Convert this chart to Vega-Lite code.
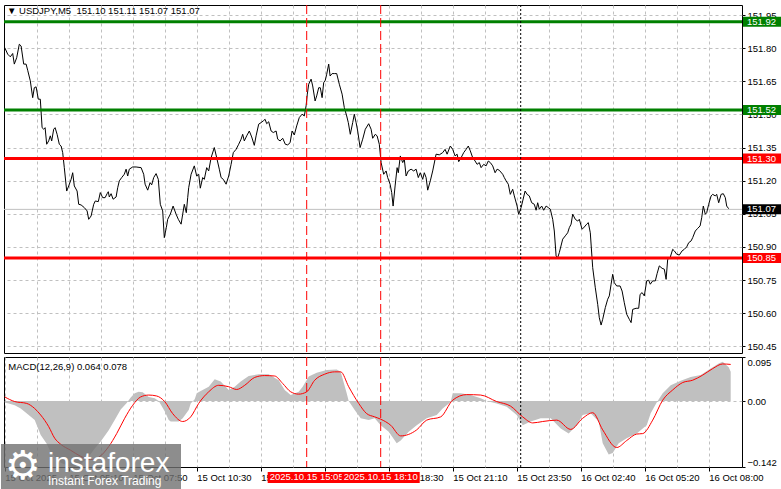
{
"$schema":"https://vega.github.io/schema/vega-lite/v6.json",
"background":"#ffffff",
"padding":{"left":0,"top":4,"right":0,"bottom":0},
"spacing":2,
"config":{
 "view":{"stroke":"#000000","strokeWidth":1},
 "axis":{"labelFont":"Liberation Sans","labelFontSize":9.5,"labelColor":"#000000","gridColor":"#c0c0c0","gridDash":[3,3],"gridWidth":1,"domain":false,"tickColor":"#000000","title":null,"labelOverlap":false,"labelSeparation":0},
 "text":{"font":"Liberation Sans","fontSize":9.5}
},
"resolve":{"scale":{"x":"independent","y":"independent","color":"independent"},"axis":{"x":"independent","y":"independent"}},
"datasets":{
 "price":[
{"bar":0,"price":151.803},{"bar":1.5,"price":151.773},{"bar":2.8,"price":151.761},{"bar":4.0,"price":151.776},{"bar":4.8,"price":151.728},{"bar":6.0,"price":151.757},{"bar":7.3,"price":151.818},{"bar":8.2,"price":151.810},{"bar":9.5,"price":151.728},{"bar":10.7,"price":151.728},{"bar":11.5,"price":151.700},{"bar":12.8,"price":151.652},{"bar":14.0,"price":151.576},{"bar":14.8,"price":151.621},{"bar":15.7,"price":151.625},{"bar":16.8,"price":151.569},{"bar":17.8,"price":151.569},{"bar":18.7,"price":151.440},{"bar":19.5,"price":151.433},{"bar":20.2,"price":151.440},{"bar":21.0,"price":151.365},{"bar":22.0,"price":151.380},{"bar":22.8,"price":151.403},{"bar":23.5,"price":151.380},{"bar":24.5,"price":151.433},{"bar":25.2,"price":151.440},{"bar":26.2,"price":151.410},{"bar":27.3,"price":151.365},{"bar":28.2,"price":151.357},{"bar":29.0,"price":151.327},{"bar":29.8,"price":151.259},{"bar":31.0,"price":151.153},{"bar":32.0,"price":151.176},{"bar":33.2,"price":151.206},{"bar":34.0,"price":151.236},{"bar":34.8,"price":151.176},{"bar":36.2,"price":151.153},{"bar":37.0,"price":151.093},{"bar":38.2,"price":151.090},{"bar":39.8,"price":151.078},{"bar":41.2,"price":151.063},{"bar":42.0,"price":151.025},{"bar":43.2,"price":151.040},{"bar":44.5,"price":151.093},{"bar":45.3,"price":151.108},{"bar":46.8,"price":151.105},{"bar":47.8,"price":151.146},{"bar":49.0,"price":151.123},{"bar":50.2,"price":151.123},{"bar":51.2,"price":151.141},{"bar":51.8,"price":151.150},{"bar":52.3,"price":151.126},{"bar":53.2,"price":151.141},{"bar":54.2,"price":151.116},{"bar":55.7,"price":151.126},{"bar":56.5,"price":151.168},{"bar":57.3,"price":151.199},{"bar":58.5,"price":151.214},{"bar":59.8,"price":151.229},{"bar":60.7,"price":151.252},{"bar":61.5,"price":151.221},{"bar":62.3,"price":151.252},{"bar":64.0,"price":151.262},{"bar":65.7,"price":151.262},{"bar":68.2,"price":151.259},{"bar":69.5,"price":151.229},{"bar":70.2,"price":151.184},{"bar":71.5,"price":151.157},{"bar":72.7,"price":151.191},{"bar":73.5,"price":151.181},{"bar":74.5,"price":151.214},{"bar":75.7,"price":151.232},{"bar":76.8,"price":151.206},{"bar":77.8,"price":151.093},{"bar":79.0,"price":151.063},{"bar":79.8,"price":150.942},{"bar":80.8,"price":150.987},{"bar":81.5,"price":151.025},{"bar":82.8,"price":151.048},{"bar":84.2,"price":151.085},{"bar":85.7,"price":151.048},{"bar":86.8,"price":151.025},{"bar":88.2,"price":151.003},{"bar":89.0,"price":151.048},{"bar":89.8,"price":151.093},{"bar":90.8,"price":151.055},{"bar":91.5,"price":151.123},{"bar":92.0,"price":151.168},{"bar":93.2,"price":151.229},{"bar":94.8,"price":151.267},{"bar":96.0,"price":151.221},{"bar":97.0,"price":151.229},{"bar":97.8,"price":151.166},{"bar":99.0,"price":151.214},{"bar":99.8,"price":151.206},{"bar":101.0,"price":151.259},{"bar":102.0,"price":151.244},{"bar":103.2,"price":151.304},{"bar":104.8,"price":151.350},{"bar":106.0,"price":151.304},{"bar":107.3,"price":151.252},{"bar":108.2,"price":151.214},{"bar":109.3,"price":151.206},{"bar":110.7,"price":151.184},{"bar":112.0,"price":151.221},{"bar":113.2,"price":151.274},{"bar":114.3,"price":151.327},{"bar":115.7,"price":151.342},{"bar":117.0,"price":151.365},{"bar":118.2,"price":151.388},{"bar":119.0,"price":151.410},{"bar":119.8,"price":151.380},{"bar":121.0,"price":151.403},{"bar":122.3,"price":151.425},{"bar":123.5,"price":151.398},{"bar":124.8,"price":151.360},{"bar":125.7,"price":151.403},{"bar":127.0,"price":151.456},{"bar":128.2,"price":151.463},{"bar":129.3,"price":151.471},{"bar":130.2,"price":151.478},{"bar":131.0,"price":151.458},{"bar":132.0,"price":151.467},{"bar":133.2,"price":151.425},{"bar":134.3,"price":151.418},{"bar":135.7,"price":151.425},{"bar":136.5,"price":151.388},{"bar":137.7,"price":151.380},{"bar":139.0,"price":151.392},{"bar":140.3,"price":151.365},{"bar":141.5,"price":151.362},{"bar":142.7,"price":151.372},{"bar":143.7,"price":151.425},{"bar":144.8,"price":151.407},{"bar":146.0,"price":151.448},{"bar":147.3,"price":151.486},{"bar":148.7,"price":151.501},{"bar":149.8,"price":151.493},{"bar":150.7,"price":151.539},{"bar":151.3,"price":151.592},{"bar":152.0,"price":151.637},{"bar":153.2,"price":151.660},{"bar":154.0,"price":151.629},{"bar":155.2,"price":151.561},{"bar":156.0,"price":151.584},{"bar":157.0,"price":151.621},{"bar":157.8,"price":151.621},{"bar":158.7,"price":151.576},{"bar":159.5,"price":151.644},{"bar":160.3,"price":151.655},{"bar":161.0,"price":151.682},{"bar":162.0,"price":151.728},{"bar":162.7,"price":151.674},{"bar":163.7,"price":151.685},{"bar":164.8,"price":151.685},{"bar":166.0,"price":151.685},{"bar":167.3,"price":151.637},{"bar":168.7,"price":151.592},{"bar":169.8,"price":151.531},{"bar":171.0,"price":151.493},{"bar":171.8,"price":151.463},{"bar":172.8,"price":151.410},{"bar":174.0,"price":151.463},{"bar":174.8,"price":151.501},{"bar":175.7,"price":151.463},{"bar":176.5,"price":151.425},{"bar":177.7,"price":151.350},{"bar":179.0,"price":151.388},{"bar":180.3,"price":151.433},{"bar":182.0,"price":151.458},{"bar":183.2,"price":151.433},{"bar":184.0,"price":151.392},{"bar":185.3,"price":151.410},{"bar":186.2,"price":151.403},{"bar":187.3,"price":151.365},{"bar":188.2,"price":151.282},{"bar":189.5,"price":151.229},{"bar":190.7,"price":151.244},{"bar":191.5,"price":151.214},{"bar":192.7,"price":151.184},{"bar":193.5,"price":151.146},{"bar":194.2,"price":151.085},{"bar":195.2,"price":151.176},{"bar":196.2,"price":151.259},{"bar":196.8,"price":151.236},{"bar":197.8,"price":151.312},{"bar":199.0,"price":151.282},{"bar":199.8,"price":151.297},{"bar":200.7,"price":151.221},{"bar":201.8,"price":151.244},{"bar":203.2,"price":151.252},{"bar":204.5,"price":151.244},{"bar":205.7,"price":151.252},{"bar":206.8,"price":151.214},{"bar":207.8,"price":151.236},{"bar":209.0,"price":151.206},{"bar":209.8,"price":151.236},{"bar":210.7,"price":151.214},{"bar":211.5,"price":151.157},{"bar":212.8,"price":151.199},{"bar":214.0,"price":151.244},{"bar":215.7,"price":151.320},{"bar":217.3,"price":151.317},{"bar":219.0,"price":151.327},{"bar":220.2,"price":151.342},{"bar":221.2,"price":151.320},{"bar":222.8,"price":151.357},{"bar":224.0,"price":151.342},{"bar":225.2,"price":151.312},{"bar":226.2,"price":151.320},{"bar":227.0,"price":151.286},{"bar":228.2,"price":151.304},{"bar":229.5,"price":151.327},{"bar":230.7,"price":151.342},{"bar":231.8,"price":151.357},{"bar":232.8,"price":151.335},{"bar":234.0,"price":151.304},{"bar":235.2,"price":151.289},{"bar":236.2,"price":151.274},{"bar":237.3,"price":151.282},{"bar":238.2,"price":151.259},{"bar":239.5,"price":151.274},{"bar":240.7,"price":151.267},{"bar":241.8,"price":151.289},{"bar":242.8,"price":151.282},{"bar":244.0,"price":151.267},{"bar":245.2,"price":151.236},{"bar":246.2,"price":151.252},{"bar":247.3,"price":151.247},{"bar":249.0,"price":151.229},{"bar":249.8,"price":151.214},{"bar":250.7,"price":151.199},{"bar":251.8,"price":151.184},{"bar":252.8,"price":151.138},{"bar":254.0,"price":151.161},{"bar":254.8,"price":151.131},{"bar":256.2,"price":151.085},{"bar":257.0,"price":151.048},{"bar":258.2,"price":151.078},{"bar":259.0,"price":151.108},{"bar":260.2,"price":151.153},{"bar":261.2,"price":151.138},{"bar":262.3,"price":151.131},{"bar":263.5,"price":151.100},{"bar":264.8,"price":151.093},{"bar":265.7,"price":151.066},{"bar":266.5,"price":151.100},{"bar":267.3,"price":151.071},{"bar":268.5,"price":151.085},{"bar":269.5,"price":151.066},{"bar":270.7,"price":151.085},{"bar":271.8,"price":151.078},{"bar":272.8,"price":151.071},{"bar":274.0,"price":151.025},{"bar":274.8,"price":150.972},{"bar":275.7,"price":150.859},{"bar":276.5,"price":150.851},{"bar":277.3,"price":150.874},{"bar":279.0,"price":150.935},{"bar":280.3,"price":150.950},{"bar":281.5,"price":150.964},{"bar":282.3,"price":150.987},{"bar":283.2,"price":151.003},{"bar":284.0,"price":151.048},{"bar":285.3,"price":151.025},{"bar":286.5,"price":151.017},{"bar":287.3,"price":151.025},{"bar":288.7,"price":150.980},{"bar":289.8,"price":150.990},{"bar":291.0,"price":151.003},{"bar":291.8,"price":151.010},{"bar":292.8,"price":150.964},{"bar":294.0,"price":150.806},{"bar":295.3,"price":150.715},{"bar":296.5,"price":150.640},{"bar":297.3,"price":150.579},{"bar":298.2,"price":150.546},{"bar":299.0,"price":150.572},{"bar":300.3,"price":150.625},{"bar":301.5,"price":150.663},{"bar":302.3,"price":150.678},{"bar":303.2,"price":150.731},{"bar":304.0,"price":150.776},{"bar":304.8,"price":150.738},{"bar":306.0,"price":150.723},{"bar":307.7,"price":150.723},{"bar":308.7,"price":150.700},{"bar":309.8,"price":150.647},{"bar":311.0,"price":150.595},{"bar":312.3,"price":150.572},{"bar":313.2,"price":150.557},{"bar":314.0,"price":150.617},{"bar":315.7,"price":150.622},{"bar":317.0,"price":150.622},{"bar":317.7,"price":150.685},{"bar":318.7,"price":150.693},{"bar":319.8,"price":150.678},{"bar":321.0,"price":150.746},{"bar":322.0,"price":150.749},{"bar":322.8,"price":150.731},{"bar":324.0,"price":150.746},{"bar":325.3,"price":150.746},{"bar":326.2,"price":150.779},{"bar":327.3,"price":150.814},{"bar":328.7,"price":150.803},{"bar":329.8,"price":150.799},{"bar":330.7,"price":150.753},{"bar":331.5,"price":150.844},{"bar":332.7,"price":150.851},{"bar":334.0,"price":150.889},{"bar":334.8,"price":150.882},{"bar":336.0,"price":150.867},{"bar":337.3,"price":150.863},{"bar":338.7,"price":150.882},{"bar":339.8,"price":150.889},{"bar":341.0,"price":150.900},{"bar":342.0,"price":150.919},{"bar":343.2,"price":150.927},{"bar":344.0,"price":150.942},{"bar":345.3,"price":150.972},{"bar":346.5,"price":150.984},{"bar":347.7,"price":150.995},{"bar":348.5,"price":151.032},{"bar":349.3,"price":151.085},{"bar":350.3,"price":151.048},{"bar":351.0,"price":151.055},{"bar":352.0,"price":151.093},{"bar":353.2,"price":151.131},{"bar":354.0,"price":151.138},{"bar":355.3,"price":151.131},{"bar":356.0,"price":151.138},{"bar":357.0,"price":151.100},{"bar":358.2,"price":151.138},{"bar":359.3,"price":151.141},{"bar":360.3,"price":151.123},{"bar":361.0,"price":151.085},{"bar":362.0,"price":151.073}
 ],
 "hist":[
{"bar":0,"macd":-0.003},{"bar":2,"macd":-0.005},{"bar":5,"macd":-0.009},{"bar":8,"macd":-0.016},{"bar":12,"macd":-0.030},{"bar":15,"macd":-0.041},{"bar":18,"macd":-0.073},{"bar":21,"macd":-0.092},{"bar":23,"macd":-0.110},{"bar":26,"macd":-0.124},{"bar":28,"macd":-0.133},{"bar":32,"macd":-0.140},{"bar":35,"macd":-0.142},{"bar":38,"macd":-0.136},{"bar":42,"macd":-0.120},{"bar":45,"macd":-0.102},{"bar":48,"macd":-0.087},{"bar":52,"macd":-0.063},{"bar":55,"macd":-0.041},{"bar":58,"macd":-0.018},{"bar":61,"macd":-0.004},{"bar":63,"macd":0.008},{"bar":65,"macd":0.017},{"bar":67,"macd":0.020},{"bar":69,"macd":0.019},{"bar":72,"macd":0.009},{"bar":75,"macd":0.006},{"bar":77,"macd":0.000},{"bar":80,"macd":-0.022},{"bar":82,"macd":-0.041},{"bar":83,"macd":-0.044},{"bar":87,"macd":-0.044},{"bar":89,"macd":-0.037},{"bar":92,"macd":-0.019},{"bar":93,"macd":-0.005},{"bar":95,"macd":0.004},{"bar":96,"macd":0.017},{"bar":98,"macd":0.022},{"bar":102,"macd":0.031},{"bar":105,"macd":0.047},{"bar":108,"macd":0.042},{"bar":112,"macd":0.024},{"bar":115,"macd":0.031},{"bar":118,"macd":0.042},{"bar":122,"macd":0.054},{"bar":127,"macd":0.058},{"bar":132,"macd":0.058},{"bar":137,"macd":0.045},{"bar":140,"macd":0.024},{"bar":143,"macd":0.013},{"bar":147,"macd":0.020},{"bar":149,"macd":0.031},{"bar":152,"macd":0.053},{"bar":156,"macd":0.061},{"bar":161,"macd":0.067},{"bar":166,"macd":0.068},{"bar":168,"macd":0.063},{"bar":171,"macd":0.017},{"bar":172,"macd":0.000},{"bar":175,"macd":-0.019},{"bar":178,"macd":-0.037},{"bar":182,"macd":-0.041},{"bar":185,"macd":-0.037},{"bar":188,"macd":-0.052},{"bar":192,"macd":-0.066},{"bar":196,"macd":-0.091},{"bar":198,"macd":-0.085},{"bar":202,"macd":-0.066},{"bar":206,"macd":-0.052},{"bar":211,"macd":-0.037},{"bar":216,"macd":-0.030},{"bar":219,"macd":-0.016},{"bar":223,"macd":-0.002},{"bar":224,"macd":0.017},{"bar":228,"macd":0.017},{"bar":233,"macd":0.013},{"bar":238,"macd":0.006},{"bar":241,"macd":0.000},{"bar":246,"macd":-0.005},{"bar":251,"macd":-0.012},{"bar":256,"macd":-0.030},{"bar":259,"macd":-0.052},{"bar":263,"macd":-0.044},{"bar":268,"macd":-0.037},{"bar":273,"macd":-0.037},{"bar":278,"macd":-0.059},{"bar":282,"macd":-0.070},{"bar":286,"macd":-0.052},{"bar":289,"macd":-0.030},{"bar":293,"macd":-0.026},{"bar":297,"macd":-0.044},{"bar":299,"macd":-0.091},{"bar":302,"macd":-0.115},{"bar":304,"macd":-0.112},{"bar":307,"macd":-0.091},{"bar":311,"macd":-0.080},{"bar":316,"macd":-0.070},{"bar":321,"macd":-0.052},{"bar":323,"macd":-0.026},{"bar":326,"macd":-0.003},{"bar":329,"macd":0.017},{"bar":333,"macd":0.034},{"bar":338,"macd":0.044},{"bar":343,"macd":0.052},{"bar":348,"macd":0.056},{"bar":353,"macd":0.070},{"bar":357,"macd":0.081},{"bar":359,"macd":0.085},{"bar":362,"macd":0.073},{"bar":363,"macd":0.063}
 ],
 "signal":[
{"bar":0,"signal":0.009},{"bar":5,"signal":-0.001},{"bar":11,"signal":-0.005},{"bar":15,"signal":-0.016},{"bar":18,"signal":-0.030},{"bar":22,"signal":-0.055},{"bar":25,"signal":-0.080},{"bar":28,"signal":-0.093},{"bar":33,"signal":-0.106},{"bar":38,"signal":-0.119},{"bar":43,"signal":-0.126},{"bar":47,"signal":-0.121},{"bar":52,"signal":-0.098},{"bar":56,"signal":-0.070},{"bar":60,"signal":-0.037},{"bar":64,"signal":-0.009},{"bar":68,"signal":0.009},{"bar":72,"signal":0.013},{"bar":76,"signal":0.011},{"bar":80,"signal":-0.001},{"bar":84,"signal":-0.027},{"bar":89,"signal":-0.044},{"bar":93,"signal":-0.034},{"bar":97,"signal":-0.005},{"bar":102,"signal":0.020},{"bar":107,"signal":0.034},{"bar":112,"signal":0.031},{"bar":116,"signal":0.025},{"bar":120,"signal":0.034},{"bar":125,"signal":0.051},{"bar":130,"signal":0.055},{"bar":135,"signal":0.054},{"bar":139,"signal":0.038},{"bar":143,"signal":0.020},{"bar":147,"signal":0.015},{"bar":151,"signal":0.020},{"bar":155,"signal":0.045},{"bar":160,"signal":0.058},{"bar":165,"signal":0.063},{"bar":168,"signal":0.063},{"bar":172,"signal":0.031},{"bar":177,"signal":-0.005},{"bar":181,"signal":-0.027},{"bar":185,"signal":-0.034},{"bar":188,"signal":-0.039},{"bar":193,"signal":-0.052},{"bar":198,"signal":-0.075},{"bar":206,"signal":-0.062},{"bar":211,"signal":-0.041},{"bar":218,"signal":-0.034},{"bar":224,"signal":0.002},{"bar":231,"signal":0.014},{"bar":238,"signal":0.013},{"bar":246,"signal":-0.001},{"bar":253,"signal":-0.011},{"bar":259,"signal":-0.034},{"bar":264,"signal":-0.047},{"bar":269,"signal":-0.044},{"bar":276,"signal":-0.041},{"bar":283,"signal":-0.061},{"bar":289,"signal":-0.037},{"bar":294,"signal":-0.025},{"bar":299,"signal":-0.062},{"bar":306,"signal":-0.100},{"bar":311,"signal":-0.085},{"bar":316,"signal":-0.071},{"bar":319,"signal":-0.070},{"bar":324,"signal":-0.041},{"bar":329,"signal":0.002},{"bar":334,"signal":0.024},{"bar":339,"signal":0.040},{"bar":344,"signal":0.045},{"bar":349,"signal":0.056},{"bar":354,"signal":0.070},{"bar":359,"signal":0.080},{"bar":363,"signal":0.079}
 ],
 "levels":[{"level":151.92,"side":"buy"},{"level":151.52,"side":"buy"},{"level":151.30,"side":"sell"},{"level":150.85,"side":"sell"}],
 "last":[{"price":151.07}],
 "events":[{"bar":151,"time":"2025.10.15 15:05"},{"bar":188,"time":"2025.10.15 18:10"}],
 "separators":[{"bar":258,"time":"2025.10.16 00:00"}]
},
"vconcat":[
 {
  "width":738,"height":348,
  "layer":[
   {"data":{"name":"last"},"mark":{"type":"rule","color":"#c0c0c0","strokeWidth":1},
    "encoding":{"y":{"field":"price","type":"quantitative","scale":{"domain":[150.4194,151.9957],"nice":false,"zero":false},
      "axis":{"orient":"right","values":[150.45,150.6,150.75,150.9,151.05,151.2,151.35,151.5,151.65,151.8,151.95],"tickCount":30,"format":".2f","tickSize":3,"labelPadding":2,"grid":true,"title":null,"domain":false,"labelOverlap":false}}}},
   {"data":{"name":"price"},"mark":{"type":"line","color":"#000000","strokeWidth":1},
    "encoding":{"x":{"field":"bar","type":"quantitative","scale":{"domain":[-0.35,368.65],"nice":false,"zero":false},
      "axis":{"values":[16,32,48,64,80,96,112,128,144,160,176,192,208,224,240,256,272,288,304,320,336,352],"tickCount":60,"labels":false,"ticks":false,"domain":false,"grid":true,"title":null}},
     "y":{"field":"price","type":"quantitative"}}},
   {"data":{"name":"levels"},"mark":{"type":"rule","strokeWidth":3},
    "encoding":{"y":{"field":"level","type":"quantitative"},"color":{"field":"side","type":"nominal","scale":{"domain":["buy","sell"],"range":["#008000","#ff0000"]},"legend":null}}},
   {"data":{"name":"events"},"mark":{"type":"rule","color":"#ff0000","strokeDash":[9,4],"strokeWidth":1},
    "encoding":{"x":{"field":"bar","type":"quantitative"}}},
   {"data":{"name":"separators"},"mark":{"type":"rule","color":"#000000","strokeDash":[2,2],"strokeWidth":1},
    "encoding":{"x":{"field":"bar","type":"quantitative"}}},
   {"data":{"name":"levels"},"mark":{"type":"tick","orient":"horizontal","size":39,"thickness":10,"opacity":1},
    "encoding":{"x":{"datum":378.9},"y":{"field":"level","type":"quantitative"},"color":{"field":"side","type":"nominal","legend":null}}},
   {"data":{"name":"levels"},"mark":{"type":"text","align":"left","baseline":"middle","color":"#ffffff","fontSize":9.5},
    "encoding":{"x":{"datum":371.15},"y":{"field":"level","type":"quantitative"},"text":{"field":"level","type":"quantitative","format":".2f"}}},
   {"data":{"name":"last"},"mark":{"type":"tick","orient":"horizontal","size":39,"thickness":10,"color":"#000000","opacity":1},
    "encoding":{"x":{"datum":378.9},"y":{"field":"price","type":"quantitative"}}},
   {"data":{"name":"last"},"mark":{"type":"text","align":"left","baseline":"middle","color":"#ffffff","fontSize":9.5},
    "encoding":{"x":{"datum":371.15},"y":{"field":"price","type":"quantitative"},"text":{"field":"price","type":"quantitative","format":".2f"}}},
   {"data":{"values":[{}]},"mark":{"type":"text","align":"left","baseline":"middle","color":"#000000","fontSize":9.5,"text":"▼ USDJPY,M5\u00a0\u00a0151.10 151.11 151.07 151.07"},
    "encoding":{"x":{"datum":1.15},"y":{"datum":151.9685}}}
  ]
 },
 {
  "width":738,"height":110,
  "layer":[
   {"data":{"name":"hist"},"mark":{"type":"area","color":"#c0c0c0","opacity":1},
    "encoding":{"x":{"field":"bar","type":"quantitative","scale":{"domain":[-0.35,368.65],"nice":false,"zero":false},
      "axis":{"values":[0,16,32,48,64,80,96,112,128,144,160,176,192,208,224,240,256,272,288,304,320,336,352],"tickCount":60,
       "labelExpr":"['15 Oct 2025','15 Oct 05:10','15 Oct 07:50','15 Oct 10:30','15 Oct 13:10','15 Oct 15:50','15 Oct 18:30','15 Oct 21:10','15 Oct 23:50','16 Oct 02:40','16 Oct 05:20','16 Oct 08:00'][datum.value/32] || ''",
       "labelAlign":"left","labelFlush":false,"labelOverlap":false,"labelBaseline":"top","tickSize":4,"labelPadding":1,
       "tickOpacity":{"condition":{"test":"datum.value % 32 !== 0","value":0},"value":1},
       "grid":true,"title":null,"domain":false}},
     "y":{"field":"macd","type":"quantitative","scale":{"domain":[-0.142,0.095],"nice":false,"zero":false},
      "axis":{"orient":"right","values":[0.095,0,-0.142],"tickCount":10,"labelExpr":"datum.value == 0 ? '0.00' : format(datum.value, '.3f')","labelFlush":true,"labelOverlap":false,"tickSize":3,"labelPadding":2,"grid":true,
       "gridOpacity":{"condition":{"test":"datum.value !== 0","value":0},"value":1},"title":null,"domain":false}},
     "y2":{"datum":0}}},
   {"data":{"name":"signal"},"mark":{"type":"line","color":"#ff0000","strokeWidth":1,"interpolate":"monotone"},
    "encoding":{"x":{"field":"bar","type":"quantitative"},"y":{"field":"signal","type":"quantitative"}}},
   {"data":{"name":"events"},"mark":{"type":"rule","color":"#ff0000","strokeDash":[9,4],"strokeWidth":1},
    "encoding":{"x":{"field":"bar","type":"quantitative"}}},
   {"data":{"name":"separators"},"mark":{"type":"rule","color":"#000000","strokeDash":[2,2],"strokeWidth":1},
    "encoding":{"x":{"field":"bar","type":"quantitative"}}},
   {"data":{"name":"events"},"transform":[{"filter":"datum.bar == 151"}],"mark":{"type":"tick","orient":"horizontal","size":78,"thickness":11,"color":"#ff0000","opacity":1},
    "encoding":{"x":{"field":"bar","type":"quantitative"},"y":{"datum":-0.1646}}},
   {"data":{"name":"events"},"transform":[{"filter":"datum.bar == 151"}],"mark":{"type":"text","align":"center","baseline":"middle","color":"#ffffff","fontSize":9.5},
    "encoding":{"x":{"field":"bar","type":"quantitative"},"y":{"datum":-0.1646},"text":{"field":"time","type":"nominal"}}},
   {"data":{"name":"events"},"transform":[{"filter":"datum.bar == 188"}],"mark":{"type":"tick","orient":"horizontal","size":78,"thickness":11,"color":"#ff0000","opacity":1},
    "encoding":{"x":{"field":"bar","type":"quantitative"},"y":{"datum":-0.1646}}},
   {"data":{"name":"events"},"transform":[{"filter":"datum.bar == 188"}],"mark":{"type":"text","align":"center","baseline":"middle","color":"#ffffff","fontSize":9.5},
    "encoding":{"x":{"field":"bar","type":"quantitative"},"y":{"datum":-0.1646},"text":{"field":"time","type":"nominal"}}},
   {"data":{"values":[{}]},"mark":{"type":"text","align":"left","baseline":"middle","color":"#000000","fontSize":9.5,"text":"MACD(12,26,9) 0.064 0.078"},
    "encoding":{"x":{"datum":1.8},"y":{"datum":0.0741}}},
   {"data":{"values":[{}]},"mark":{"type":"rect","color":"#707070","opacity":0.8},
    "encoding":{"x":{"datum":-1.85},"x2":{"datum":88.15},"y":{"datum":-0.0925},"y2":{"datum":-0.1894}}},
   {"data":{"values":[{}]},"mark":{"type":"text","align":"center","baseline":"middle","color":"#ffffff","font":"DejaVu Sans","fontSize":40,"text":"⚙"},
    "encoding":{"x":{"datum":9.15},"y":{"datum":-0.142}}},
   {"data":{"values":[{}]},"mark":{"type":"text","align":"left","baseline":"alphabetic","color":"#ffffff","fontSize":28,"text":"instaforex"},
    "encoding":{"x":{"datum":21.65},"y":{"datum":-0.1528}}},
   {"data":{"values":[{}]},"mark":{"type":"text","align":"left","baseline":"middle","color":"#ffffff","fontSize":12,"text":"Instant Forex Trading"},
    "encoding":{"x":{"datum":21.65},"y":{"datum":-0.1722}}}
  ]
 }
]
}
